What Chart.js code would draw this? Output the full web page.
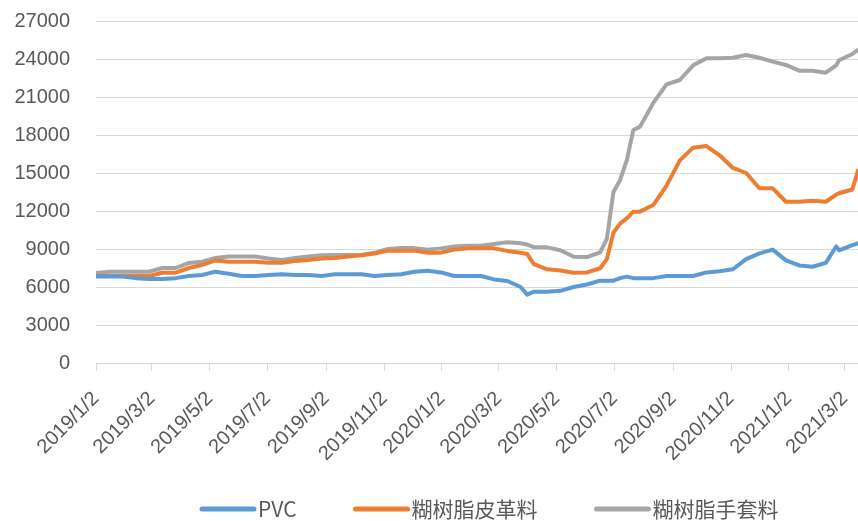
<!DOCTYPE html>
<html>
<head>
<meta charset="utf-8">
<script src="https://cdn.jsdelivr.net/npm/chart.js@4/dist/chart.umd.min.js"></script>
<style>
  html, body { margin: 0; padding: 0; background: #fff; }
  #wrap { width: 858px; height: 521px; }
</style>
</head>
<body>
<div id="wrap"><canvas id="chart"></canvas></div>
<script>
// sample dates
const dates = [
  '2019/1/2', '2019/1/16', '2019/1/30', '2019/2/13', '2019/2/27', '2019/3/13', '2019/3/27',
  '2019/4/10', '2019/4/24', '2019/5/8', '2019/5/22', '2019/6/5', '2019/6/19', '2019/7/3',
  '2019/7/17', '2019/7/31', '2019/8/14', '2019/8/28', '2019/9/11', '2019/9/25', '2019/10/9',
  '2019/10/23', '2019/11/6', '2019/11/20', '2019/12/4', '2019/12/18', '2020/1/1', '2020/1/15',
  '2020/1/29', '2020/2/12', '2020/2/26', '2020/3/11', '2020/3/25', '2020/4/1', '2020/4/8',
  '2020/4/22', '2020/5/6', '2020/5/20', '2020/6/3', '2020/6/17', '2020/6/24', '2020/7/1',
  '2020/7/8', '2020/7/15', '2020/7/22', '2020/7/29', '2020/8/12', '2020/8/26', '2020/9/9',
  '2020/9/23', '2020/10/7', '2020/10/21', '2020/11/4', '2020/11/18', '2020/12/2', '2020/12/16',
  '2020/12/30', '2021/1/13', '2021/1/27', '2021/2/10', '2021/2/21', '2021/2/24', '2021/3/10',
  '2021/3/16'
];

const pvc = [
  6820, 6820, 6820, 6700, 6630, 6630, 6700,
  6870, 6950, 7210, 7050, 6870, 6870, 6950,
  7000, 6950, 6950, 6870, 7000, 7000, 7000,
  6870, 6950, 7000, 7200, 7290, 7150, 6870,
  6870, 6870, 6600, 6470, 6000, 5400, 5630,
  5630, 5700, 6000, 6200, 6500, 6500, 6500,
  6700, 6820, 6700, 6700, 6700, 6870, 6870,
  6870, 7150, 7250, 7400, 8200, 8650, 8950,
  8100, 7700, 7600, 7900, 9200, 8900, 9300,
  9450
];

const leather = [
  6870, 6870, 6870, 6870, 6870, 7130, 7130,
  7500, 7750, 8100, 8000, 8000, 8000, 7920,
  7920, 8050, 8130, 8250, 8290, 8400, 8500,
  8650, 8870, 8870, 8870, 8700, 8710, 8950,
  9050, 9050, 9050, 8850, 8710, 8600, 7800,
  7400, 7300, 7130, 7150, 7480, 8200, 10300,
  11000, 11420, 11950, 11950, 12470, 14000, 16000,
  17000, 17130, 16400, 15400, 15000, 13800, 13790,
  12730, 12730, 12800, 12730, 13300, 13400, 13700,
  15200
];

const glove = [
  7100, 7200, 7210, 7210, 7210, 7500, 7500,
  7900, 8000, 8300, 8400, 8400, 8400, 8250,
  8130, 8300, 8400, 8500, 8530, 8530, 8530,
  8700, 9000, 9070, 9070, 8950, 9050, 9200,
  9260, 9260, 9400, 9530, 9450, 9350, 9150,
  9130, 8900, 8390, 8360, 8740, 9800, 13500,
  14450, 16000, 18400, 18660, 20530, 22000, 22340,
  23500, 24050, 24050, 24100, 24320, 24100, 23790,
  23530, 23080, 23080, 22920, 23500, 23900, 24400,
  24710
];

const tickLabels = [
  '2019/1/2', '2019/3/2', '2019/5/2', '2019/7/2', '2019/9/2', '2019/11/2', '2020/1/2',
  '2020/3/2', '2020/5/2', '2020/7/2', '2020/9/2', '2020/11/2', '2021/1/2', '2021/3/2'
];

const seriesNames = ['PVC', '糊树脂皮革料', '糊树脂手套料'];
const seriesColors = ['#5B9BD5', '#ED7D31', '#A5A5A5'];

// days since the first date, so the x axis is a real time line
function dayNo(s) {
  const p = s.split('/').map(Number);
  return (Date.UTC(p[0], p[1] - 1, p[2]) - Date.UTC(2019, 0, 2)) / 86400000;
}
const xs = dates.map(dayNo);
const tickDays = tickLabels.map(dayNo);

function points(vals) {
  return vals.map((v, i) => ({ x: xs[i], y: v }));
}

const textColor = '#595959';
const gridColor = '#D9D9D9';

// legend drawn by hand so item spacing can follow the picture
const lineLegend = {
  id: 'lineLegend',
  afterDraw(chart) {
    const ctx = chart.ctx;
    ctx.save();
    ctx.font = '21px "Noto Sans CJK SC", "Liberation Sans", sans-serif';
    ctx.textBaseline = 'middle';
    let x = 200;
    const y = 509;
    chart.data.datasets.forEach(ds => {
      ctx.strokeStyle = ds.borderColor;
      ctx.lineWidth = 5;
      ctx.lineCap = 'round';
      ctx.beginPath();
      ctx.moveTo(x + 2, y);
      ctx.lineTo(x + 54, y);
      ctx.stroke();
      ctx.fillStyle = textColor;
      ctx.fillText(ds.label, x + 58, y);
      x += 58 + ctx.measureText(ds.label).width + 57;
    });
    ctx.restore();
  }
};

const series = [pvc, leather, glove];

new Chart(document.getElementById('chart'), {
  type: 'line',
  data: {
    datasets: series.map((vals, i) => ({
      label: seriesNames[i],
      data: points(vals),
      borderColor: seriesColors[i],
      backgroundColor: seriesColors[i],
      borderWidth: 4,
      pointRadius: 0,
      tension: 0,
      borderJoinStyle: 'round',
      borderCapStyle: 'round'
    }))
  },
  options: {
    responsive: true,
    maintainAspectRatio: false,
    animation: false,
    layout: { padding: { top: 21, right: 0, bottom: 0, left: 0 } },
    plugins: {
      legend: { display: false },
      tooltip: { enabled: false }
    },
    scales: {
      x: {
        type: 'linear',
        min: 0,
        max: xs[xs.length - 1],
        afterBuildTicks: (scale) => {
          scale.ticks = tickDays.map(v => ({ value: v }));
        },
        afterFit: (scale) => {
          scale.height = 158;
          scale.paddingLeft = 0;
          scale.paddingRight = 0;
        },
        ticks: {
          autoSkip: false,
          minRotation: 45,
          maxRotation: 45,
          padding: 16,
          color: textColor,
          font: { family: '"Liberation Sans", sans-serif', size: 20 },
          callback: (v) => {
            const i = tickDays.indexOf(v);
            return i >= 0 ? tickLabels[i] : '';
          }
        },
        grid: {
          drawOnChartArea: false,
          drawTicks: true,
          tickLength: 8,
          color: gridColor
        },
        border: { display: true, color: gridColor }
      },
      y: {
        min: 0,
        max: 27000,
        afterFit: (scale) => {
          scale.width = 96;
          scale.paddingTop = 0;
          scale.paddingBottom = 0;
        },
        ticks: {
          stepSize: 3000,
          padding: 26,
          color: textColor,
          font: { family: '"Liberation Sans", sans-serif', size: 20 },
          callback: (v) => String(v)
        },
        grid: { color: gridColor, drawTicks: false },
        border: { display: false }
      }
    }
  },
  plugins: [lineLegend]
});
</script>
</body>
</html>
